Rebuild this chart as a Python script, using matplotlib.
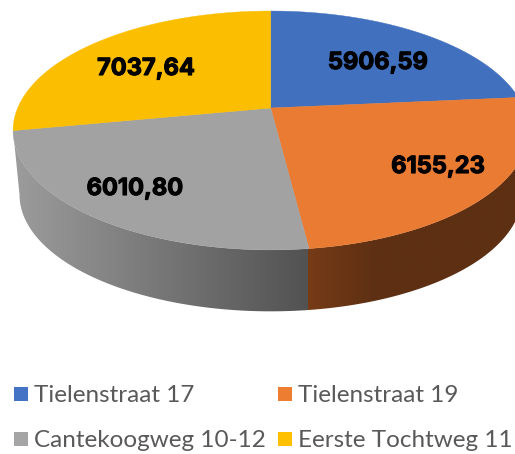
import numpy as np
import matplotlib
matplotlib.use("Agg")
import matplotlib.pyplot as plt
from matplotlib.patches import Polygon, Rectangle
import matplotlib.patheffects as pe

categories = ["Tielenstraat 17", "Tielenstraat 19", "Cantekoogweg 10-12", "Eerste Tochtweg 11"]
values = [5906.59, 6155.23, 6010.80, 7037.64]
value_labels = ["5906,59", "6155,23", "6010,80", "7037,64"]
colors = ["#4170BE", "#E97B32", "#A2A2A2", "#FCBE00"]
legend_colors = ["#4472C4", "#ED7D31", "#A5A5A5", "#FFC000"]

# where the labels and legend entries sit, in pixels
label_xy = [(378, 69), (438, 173), (135, 195), (146, 75)]
legend_xy = [(14, 402), (278, 402), (14, 447), (278, 447)]

# perspective of the pie
cx, top_y, bot_y = 270.7, 108, 173
ax_r, ay_r, k, shrink = 253, 115.2, 0.188, 0.975


def rim(theta, bottom=False):
    # theta in degrees, clockwise from the top
    t = np.radians(theta)
    X, Y = np.sin(t), np.cos(t)
    s = shrink if bottom else 1.0
    y0 = bot_y if bottom else top_y
    d = 1 + k * Y
    return np.column_stack([cx + s * ax_r * X / d, y0 - s * ay_r * Y / d])


def wall(ax, a, b, cols, x0, x1):
    th = np.linspace(a, b, 150)
    pts = np.vstack([rim(th), rim(th[::-1], bottom=True)])
    poly = Polygon(pts, closed=True, fc="none", ec="none", transform=ax.transData)
    ax.add_patch(poly)
    grad = np.linspace(0, 1, 256)[None, :]
    cmap = matplotlib.colors.LinearSegmentedColormap.from_list("w", cols)
    im = ax.imshow(grad, cmap=cmap, extent=[x0, x1, 330, 120], aspect="auto", zorder=1)
    im.set_clip_path(poly)


fig = plt.figure(figsize=(5.15, 4.54), dpi=100, facecolor="white")
ax = fig.add_axes([0, 0, 1, 1])

edges = 360 * np.cumsum([0] + values) / np.sum(values)

# side walls, only the front ones can be seen
wall(ax, 95, edges[2] + 0.6, [(0, "#5E3013"), (0.7, "#5E3013"), (1, "#763B17")], 530, 308)
wall(ax, edges[2], edges[3], ["#525252", "#9C9C9C"], 308, 14)

for i in range(len(values)):
    th = np.linspace(edges[i], edges[i + 1], 150)
    pts = np.vstack([[cx, top_y], rim(th)])
    ax.add_patch(Polygon(pts, closed=True, fc=colors[i], ec=colors[i], lw=0.3, zorder=2))

for txt, (x, y) in zip(value_labels, label_xy):
    ax.text(x, y, txt, ha="center", va="baseline", fontsize=17, fontweight="bold",
            family="Inter", color="black", zorder=3,
            path_effects=[pe.withStroke(linewidth=0.8, foreground="black")])

for name, col, (x, y) in zip(categories, legend_colors, legend_xy):
    ax.add_patch(Rectangle((x, y - 15), 14, 14, fc=col, ec="none"))
    ax.text(x + 20, y, name, ha="left", va="baseline", fontsize=17.5,
            family="Lato", color="#595959")

ax.set_xlim(0, 515)
ax.set_ylim(454, 0)
ax.axis("off")
fig.savefig("out.png", dpi=100)
